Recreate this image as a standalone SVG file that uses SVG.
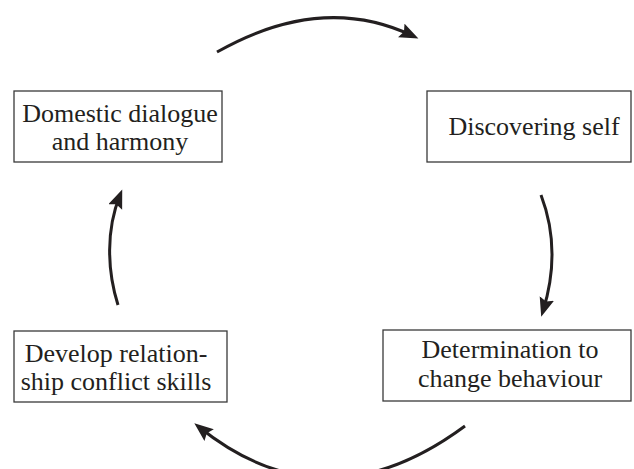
<svg xmlns="http://www.w3.org/2000/svg" width="634" height="469" viewBox="0 0 634 469">
  <style>
    .box { fill: #ffffff; stroke: #3a3a3a; stroke-width: 1.3; }
    .label { font-family: "Liberation Serif", "Times New Roman", serif; font-size: 26px; fill: #231f20; text-anchor: middle; }
    .arc { fill: none; stroke: #231f20; stroke-width: 3; stroke-linecap: butt; }
  </style>
  <defs>
    <marker id="head" markerUnits="userSpaceOnUse" markerWidth="20" markerHeight="16" refX="13" refY="7.5" orient="auto">
      <path d="M0,0 L19,7.5 L0,15 L3,7.5 z" fill="#231f20"/>
    </marker>
  </defs>

  <rect width="634" height="469" fill="#ffffff"/>

  <g id="node-domestic">
    <rect class="box" x="14" y="91" width="208" height="71"/>
    <text class="label" x="120" y="122">Domestic dialogue</text>
    <text class="label" x="120" y="150">and harmony</text>
  </g>

  <g id="node-discovering">
    <rect class="box" x="427" y="91" width="204" height="71"/>
    <text class="label" x="534" y="135">Discovering self</text>
  </g>

  <g id="node-determination">
    <rect class="box" x="383" y="330" width="248" height="71"/>
    <text class="label" x="510" y="358">Determination to</text>
    <text class="label" x="510" y="387">change behaviour</text>
  </g>

  <g id="node-develop">
    <rect class="box" x="14" y="331" width="213" height="71"/>
    <text class="label" x="116" y="362">Develop relation-</text>
    <text class="label" x="116" y="390">ship conflict skills</text>
  </g>

  <g id="connectors">
    <path class="arc" d="M217,52 Q322,-7.5 413,36" marker-end="url(#head)"/>
    <path class="arc" d="M541,195 Q562,250 543,311" marker-end="url(#head)"/>
    <path class="arc" d="M465,426 Q326,529 199,427" marker-end="url(#head)"/>
    <path class="arc" d="M118,305 C107,270 106,230 120,195" marker-end="url(#head)"/>
  </g>
</svg>
